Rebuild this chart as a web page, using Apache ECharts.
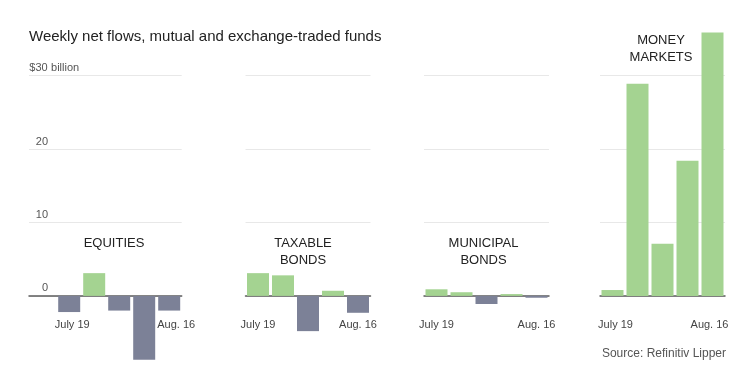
<!DOCTYPE html>
<html><head><meta charset="utf-8">
<script src="https://cdn.jsdelivr.net/npm/echarts@6/dist/echarts.min.js"></script>
<style>html,body{margin:0;padding:0;background:#fff}#c{width:751px;height:373px}</style>
</head><body><div id="c"></div>
<script>
// ---- data ----
const categories = ['July 19', 'July 26', 'Aug. 2', 'Aug. 9', 'Aug. 16'];
const equities = [-2.2, 3.1, -2.0, -8.7, -2.0];
const taxableBonds = [3.1, 2.8, -4.8, 0.7, -2.3];
const municipalBonds = [0.9, 0.5, -1.1, 0.25, -0.25];
const moneyMarkets = [0.8, 28.9, 7.1, 18.4, 35.9];
const yTickValues = [0, 10, 20, 30];
const yTickLabels = ['0', '10', '20', '$30 billion'];
const panelTitles = ['EQUITIES', 'TAXABLE\nBONDS', 'MUNICIPAL\nBONDS', 'MONEY\nMARKETS'];
const chartTitle = 'Weekly net flows, mutual and exchange-traded funds';
const sourceNote = 'Source: Refinitiv Lipper';

// ---- layout / style ----
const FONT = '"Liberation Sans", Arial, sans-serif';
const GREEN = '#a4d391';
const GRAY = '#7c8197';
const GRID_COLOR = '#e8e8e8';
const ZERO_COLOR = '#5c5c5c';
const TOP = 75.7, BOTTOM = 3.7, W = 751, H = 373;
const Y_MIN = -10, Y_MAX = 30, Y_INT = 10;
const LABEL_TOP = 319; // top of the week labels
const GRID_BOTTOM_Y = H - BOTTOM;

const panels = [
  {data: equities, left: 56.7, titleX: 114, titleY: 243, pads: {0: [0,0,0,6], 4: [0,0,0,14]}, zeroLine: false},
  {data: taxableBonds, left: 245.5, titleX: 303, titleY: 251.5, pads: {}, zeroLine: true},
  {data: municipalBonds, left: 424, titleX: 483.5, titleY: 251.5, pads: {}, zeroLine: true},
  {data: moneyMarkets, left: 600, titleX: 661, titleY: 49, pads: {0: [0,0,0,6], 4: [0,6,0,0]}, zeroLine: true}
];
const PANEL_W = 125;

const grids = [], xAxes = [], yAxes = [], series = [], graphics = [];

panels.forEach((p, i) => {
  grids.push({left: p.left, width: PANEL_W, top: TOP, bottom: BOTTOM, containLabel: false, outerBoundsMode: 'none'});
  // axis carrying the zero line and the bars
  xAxes.push({
    type: 'category', gridIndex: i, data: categories,
    axisLine: {show: p.zeroLine, onZero: true, lineStyle: {color: ZERO_COLOR, width: 1.5}},
    axisTick: {show: false}, axisLabel: {show: false}, splitLine: {show: false}
  });
  yAxes.push({
    type: 'value', gridIndex: i, min: Y_MIN, max: Y_MAX, interval: Y_INT,
    axisLine: {show: false}, axisTick: {show: false}, axisLabel: {show: false},
    splitLine: {show: i !== 0, showMinLine: false, lineStyle: {color: GRID_COLOR, width: 1}}
  });
  series.push({
    type: 'bar', xAxisIndex: 2 * i, yAxisIndex: i, data: p.data,
    barCategoryGap: '12%', clip: false,
    itemStyle: {color: (params) => params.value >= 0 ? GREEN : GRAY}
  });
  graphics.push({
    type: 'text', x: p.titleX, y: p.titleY,
    style: {text: panelTitles[i], font: '13px ' + FONT, fill: '#222', textAlign: 'center',
            textVerticalAlign: 'middle', lineHeight: 17}
  });
});
// label axes (one per panel), placed at the grid bottom and pulled up to under the zero line
panels.forEach((p, i) => {
  xAxes.splice(2 * i + 1, 0, {
    type: 'category', gridIndex: i, position: 'bottom',
    data: categories.map((c, j) => p.pads[j] ? {value: c, textStyle: {padding: p.pads[j]}} : c),
    axisLine: {show: false, onZero: false}, axisTick: {show: false}, splitLine: {show: false},
    axisLabel: {
      interval: (idx) => idx === 0 || idx === categories.length - 1,
      margin: LABEL_TOP - GRID_BOTTOM_Y, verticalAlign: 'top',
      fontSize: 11, color: '#444', fontFamily: FONT
    }
  });
});

// background grid for panel 1: gridlines, zero line and value labels extending left
const bgIndex = panels.length;
grids.push({left: 29, right: W - (panels[0].left + PANEL_W), top: TOP, bottom: BOTTOM, outerBoundsMode: 'none'});
xAxes.push({
  type: 'value', gridIndex: bgIndex, min: 0, max: 1,
  axisLine: {show: true, onZero: true, lineStyle: {color: ZERO_COLOR, width: 1.5}},
  axisTick: {show: false}, axisLabel: {show: false}, splitLine: {show: false}
});
yAxes.push({
  type: 'value', gridIndex: bgIndex, min: Y_MIN, max: Y_MAX, interval: Y_INT,
  axisLine: {show: false}, axisTick: {show: false},
  splitLine: {show: true, showMinLine: false, lineStyle: {color: GRID_COLOR, width: 1}},
  axisLabel: {
    inside: true, margin: 0, align: 'left', verticalAlign: 'bottom', padding: [0, 0, 2, 0],
    formatter: (v) => {
      const k = yTickValues.indexOf(v);
      if (k < 0) return '';
      const lab = yTickLabels[k];
      const sp = lab.indexOf(' ');
      return sp < 0 ? '{n|' + lab + '}' : '{n|' + lab.slice(0, sp) + '}{b|' + lab.slice(sp) + '}';
    },
    rich: {
      n: {width: 19, align: 'right', fontSize: 11, color: '#555', fontFamily: FONT},
      b: {fontSize: 11, color: '#555', fontFamily: FONT}
    }
  }
});

graphics.push({
  type: 'text', x: 29, y: 37,
  style: {text: chartTitle, font: '15px ' + FONT, fill: '#222', textVerticalAlign: 'middle'}
});
graphics.push({
  type: 'text', x: 726, y: 354,
  style: {text: sourceNote, font: '12px ' + FONT, fill: '#555', textAlign: 'right', textVerticalAlign: 'middle'}
});

const chart = echarts.init(document.getElementById('c'), null, {renderer: 'canvas'});
chart.setOption({
  animation: false,
  grid: grids, xAxis: xAxes, yAxis: yAxes, series: series, graphic: graphics
});
</script>
</body></html>
